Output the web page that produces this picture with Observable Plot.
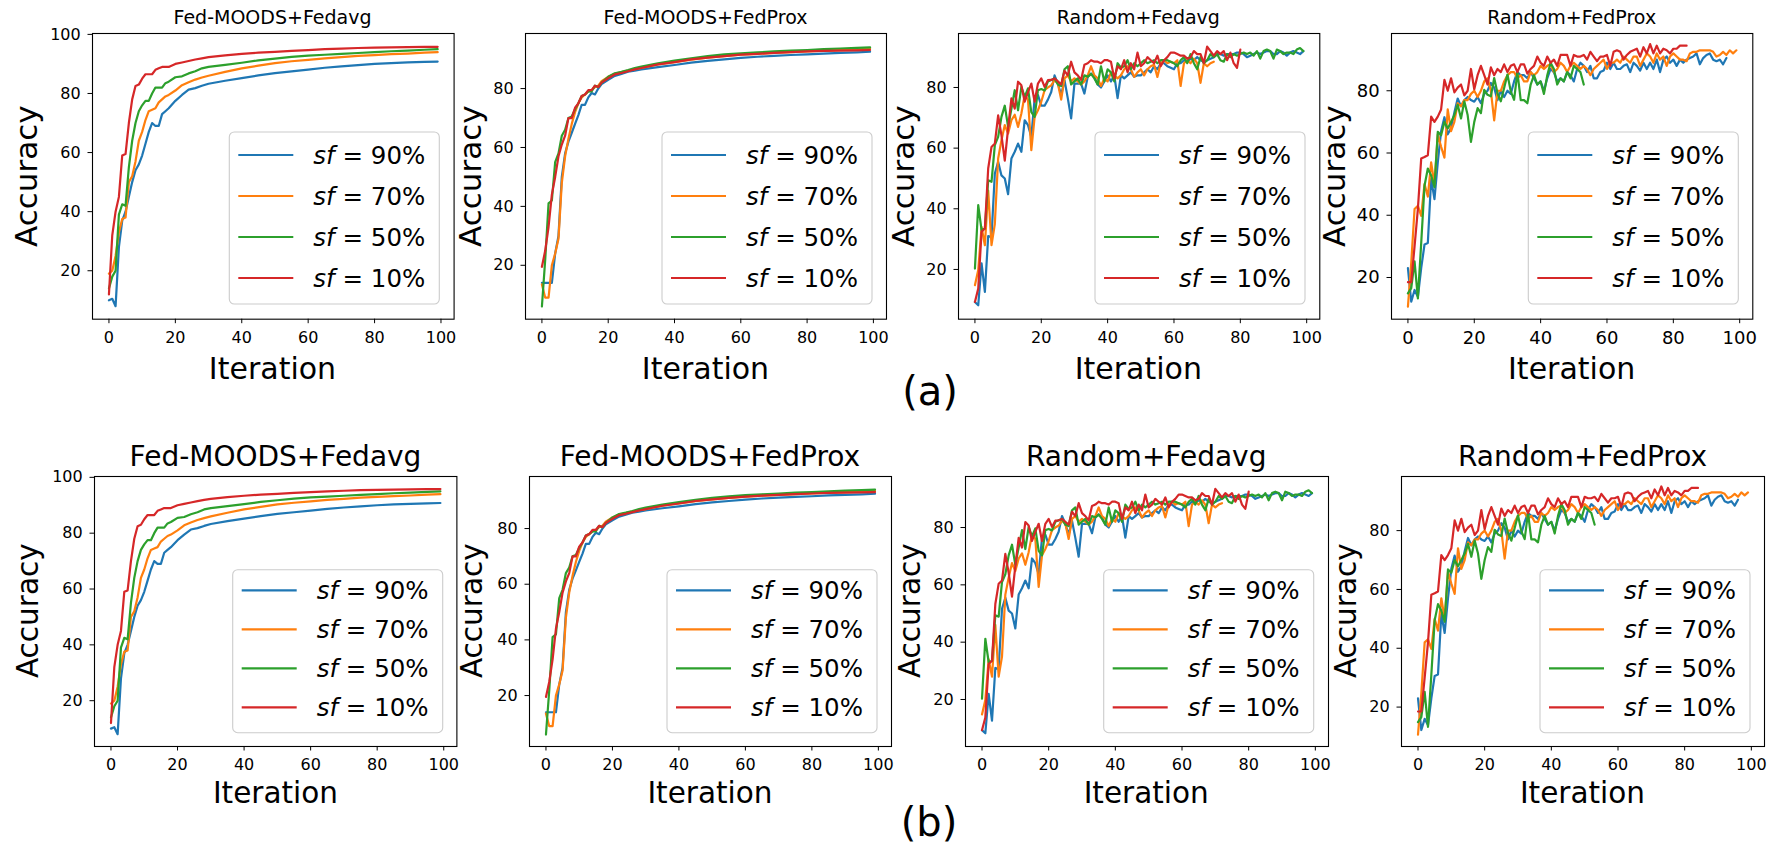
<!DOCTYPE html>
<html><head><meta charset="utf-8">
<script src="https://cdn.jsdelivr.net/npm/d3@7"></script>
<script src="https://cdn.jsdelivr.net/npm/@observablehq/plot@0.6"></script>
<style>
body{margin:0;background:#fff}
#root{position:relative;width:1770px;height:847px;font-family:"DejaVu Sans",sans-serif;overflow:hidden}
#root svg.plot{position:absolute}
#overlay{position:absolute;left:0;top:0;pointer-events:none}
</style></head><body><div id="root"></div>
<script>
// ---------------- data ----------------
const sfValues = ["90%", "70%", "50%", "10%"];
const sfColors = ["#1f77b4", "#ff7f0e", "#2ca02c", "#d62728"];
const titles = ["Fed-MOODS+Fedavg", "Fed-MOODS+FedProx", "Random+Fedavg", "Random+FedProx"];
const xTicks = [0, 20, 40, 60, 80, 100];

// iterations at which the smooth Fed-MOODS curves were read
const smoothIters = [0,1,2,3,4,5,6,7,8,9,10,11,12,13,14,15,16,17,18,20,22,24,26,28,30,35,40,45,50,55,60,65,70,75,80,85,90,95,99];

// Fed-MOODS + Fedavg
const moodsAvg90 = [10,10.5,8,28,37,40,45,50,54,56,59,63,67,70,69,69,73,74,75,77.5,79.5,81.3,81.8,82.6,83.3,84.3,85.2,86.1,86.9,87.5,88.1,88.7,89.2,89.6,90,90.3,90.5,90.7,90.8];
const moodsAvg70 = [19,20,25,33,37.5,38,50,52,57,64,67,71,74,74.5,75,77,78,79,79.5,81,82.8,83.8,84.7,85.4,86,87.3,88.5,89.4,90.3,90.9,91.4,91.9,92.3,92.7,93,93.3,93.5,93.8,94];
const moodsAvg50 = [14,18,20,39,42.5,42,55,64,70,74,76,77.5,77.5,80,82,82,82,83.5,84,85.5,85.8,86.8,87.5,88.5,89,89.7,90.4,91.2,91.8,92.4,92.8,93.1,93.4,93.7,94,94.3,94.5,94.8,95];
const moodsAvg10 = [12,32,40,45,59,59.5,70,78,82.5,83,85,86.5,86.5,86.5,88,88.5,89,89,89,90,90.5,91,91.5,91.9,92.3,92.9,93.4,93.8,94.1,94.4,94.7,95,95.2,95.4,95.5,95.6,95.7,95.8,95.8];

// Fed-MOODS + FedProx
const moodsProx90 = [14,14,14,14,24,30,50,58,62,65,68,71,74.5,74.5,77,78.5,78,80,81.5,83,84.3,85,85.7,86.1,86.5,87.3,88,88.8,89.4,89.9,90.4,90.8,91.1,91.4,91.6,91.9,92.1,92.3,92.5];
const moodsProx70 = [13.5,9,9,20,24,29,48,57,63,68,72,75,77,78,79,79.5,80.5,81,82.5,84,85,85.6,86.1,86.6,87,88.2,89,89.8,90.5,91,91.5,91.8,92.1,92.4,92.6,92.9,93.1,93.3,93.5];
const moodsProx50 = [6,22,41,42,55,58,64,66,70,70.5,73,75,77.5,78,79,79,81,80.5,82,84,85.2,85.7,86.3,87,87.5,88.6,89.5,90.3,91,91.6,92,92.3,92.6,92.9,93.1,93.4,93.6,93.8,94];
const moodsProx10 = [19.5,25,33,44,50,57,61,64,70,70,73.5,75,77.5,78,79.5,79.5,81,80.5,82,83.5,84.8,85.3,85.9,86.5,87,88.2,89,89.9,90.5,91,91.5,91.8,92.1,92.4,92.6,92.8,92.9,93,93.1];

// Random + Fedavg (one value per iteration, starting at 0)
const randAvg90 = [9.3,8.2,22,12.6,31,30.7,51.6,55.5,51,50, 44.8,56.6,58.8,61.5,58.8,69.2,67.6,63.7,76.4,77.5, 74,74,76,78.5,84,81.3,77.5,82.4,76.4,69.8, 81.3,81.3,81.3,78,83.5,84.6,83.5,81,80,82, 84,82,84,76.5,84,83,84,85,83.5,84, 84,85,86,85,87,86,88,88,87,86.5, 86,88,88,89,88.5,89.5,89,90,89,88.5, 89,89.5,90,91,91,90.5,91,91,91,91.5, 91.5,91,90,90.5,91,91.5,91,91.5,92,92, 91,91,92,91.5,90.5,91.5,92,91.5,91,92];
const randAvg70 = [14.8,19.8,34,28,46,28,35,56.6,62.6,67.6, 64.8,69.2,71,67,71.4,77.5,76,59.3,70.3,72.5, 75.3,79.1,80,80.7,82.4,81.3,76,83,84,82, 83,82,81,82,84,87,84,83,80.5,83, 82,85,84,83,84,86,87,86,83.5,85, 86,84,86,87,87.5,83.5,88,89,88,88.5, 88,89,80.5,88,89,88,89.5,88,81.5,88, 87,88,88.5];
const randAvg50 = [20.3,41.2,33,33.5,49.4,48.9,61,63.7,70.3,74, 67,73,79.1,72.5,80.2,76.9,79.7,71.9,70.3,79.1, 79.5,79,82,82.5,83,81,80.5,86,87,81, 82,83,81,84,83.5,84.5,83,81,87,82, 86,85,82,88,86.5,87,89,86,88,87, 88,89,88,88.5,89,88,89,89,89,88.5, 88,87,89,90,88,91,88,86,90,88, 89,91,90,91,89,88.5,91,90,91,90.5, 91,91.5,91,91.5,90.5,92,89.5,92,92.5,92, 89.5,92.5,92,91,91.5,91.5,91,92.5,93,92];
const randAvg10 = [9.3,13.7,32.4,33.5,53.3,60.4,61.5,70.8,64.2,55.9, 66.5,76.4,73,81.9,80.7,75.3,78.5,81.3,75.3,81.3, 83,80.2,82.4,82.5,83,82,81,85.5,84,88.5, 85,84,82.5,87.5,88,89,88.5,88.5,88,89, 89,88.5,83,87,86,89,85,88,86,91.5, 87,88,90,89,88,90.5,87,89,90,91.5, 91.5,91,90.5,90.5,89.5,90,92,91,91,88, 93.5,92,90.5,92,91,92,89,91.5,88,86.5, 92.5];

// Random + FedProx
const randProx90 = [23,12.2,16,13.8,23,30.6,31.1,51.7,45.2,57, 67,71.5,66,68,73,77.5,75,77,78,77, 76.5,78,76,79,80,82.5,81,77,80,78, 80,79,83,86,85,85,84,86,84,82, 83,80,84,87,86,83,84,83,86,85, 83,87,89,88,86,88,84,84,86,86.5, 89,87,89,87,87,88,88.5,86,89,88, 86.5,89,87,89,87,90,86,90,91,89, 90,88,90,89,90,90.5,91,92,88.5,90.5, 91.5,92,90,89.5,90,88.5,90.5];
const randProx70 = [10.6,24.7,42,43,39.8,50,46,57,50,66, 62,58.5,74,67,70,76,75,77,77,79, 80,78,80,83,84,80,70.5,80,80,83, 85,86,86,84,85,83,83,86,85,86, 88,87,88,88.5,86,87,89,88,86,88, 89,88,87,88,87,85,87,88,89,90, 87,89,89,90,89,91,90,89,91,91, 88,90,92,91,89,92,90,91,88,91, 92,91,90,90,89.5,92,92.5,92.5,93,93, 93,93,92.5,91,91.5,92.5,91.5,93,92,93];
const randProx50 = [14.9,16.6,25.2,13.3,31,49.5,55,52.8,49,66.8, 65.7,70,67.9,70,72.2,75.5,71.1,76.6,72.2,63.6, 70,74.4,72.8,80.3,78.7,78.2,84.1,79.2,76.6,80.9, 85.2,79.8,77.1,86,77,77,76,82,85,82, 83,79,85,89,87,82,84,83,86,84, 88,87,86,82];
const randProx10 = [18.5,18.5,30,42,58.2,58.7,59.3,71.7,70,71.7, 74,83.5,80,84,79.5,81,82,78.5,80,87, 80.5,85,88,85,82,87.5,85,87,86,88.5, 86,88,88.5,86,88.5,88.5,85.5,87,88,91, 89,88,91,89,90,88,91.5,91.5,91.5,88, 91.5,91,91,91.5,90,92.5,91,89.5,91,91, 91.5,88,92.5,93,92.5,90,91.5,92.5,93,93.5, 91,94,92,95,92,94.5,92,93.5,93,92, 93.5,93.5,94.5,94.5,94.5];

// ---------------- build tables ----------------
function rowsFrom(iters, seriesList) {
  const out = [];
  seriesList.forEach((vals, k) => vals.forEach((v, i) => out.push({it: iters ? iters[i] : i, acc: v, sf: sfValues[k]})));
  return out;
}
const panels = [
  {title: titles[0], rows: rowsFrom(smoothIters, [moodsAvg90, moodsAvg70, moodsAvg50, moodsAvg10]), yDomain: [3.6, 100.3], yTicks: [20, 40, 60, 80, 100]},
  {title: titles[1], rows: rowsFrom(smoothIters, [moodsProx90, moodsProx70, moodsProx50, moodsProx10]), yDomain: [1.7, 98.7], yTicks: [20, 40, 60, 80]},
  {title: titles[2], rows: rowsFrom(null, [randAvg90, randAvg70, randAvg50, randAvg10]), yDomain: [3.6, 97.8], yTicks: [20, 40, 60, 80]},
  {title: titles[3], rows: rowsFrom(null, [randProx90, randProx70, randProx50, randProx10]), yDomain: [6.6, 98.4], yTicks: [20, 40, 60, 80]}
];

// ---------------- layout ----------------
const figRows = [
  {tag: "(a)", tagX: 930, tagBase: 405, top: 33.3, h: 285.7, titleSize: 19, titleBase: 24, ySize: 31, xSize: 30, iterOff: 60.3,
   frames: [[91.7, 453.3], [525, 886], [957.7, 1319], [1391, 1752.3]], yLabOff: [65.7, 55.5, 55, 57], tickFont: [16, 16, 16, 18],
   leg: {w: 210, h: 172, right: 14, bottom: 15, first: 23, step: 41}},
  {tag: "(b)", tagX: 929, tagBase: 836, top: 475.7, h: 270, titleSize: 28, titleBase: 466, ySize: 29.5, xSize: 29.5, iterOff: 57.6,
   frames: [[94.3, 456.7], [529, 891], [964.7, 1327.7], [1401, 1764]], yLabOff: [66.3, 57, 54.4, 55], tickFont: [16, 16, 16, 16],
   leg: {w: 210, h: 163, right: 14, bottom: 13, first: 20.7, step: 39}}
];

const root = document.getElementById("root");
const ML = 70, MR = 6, MT = 6, MB = 40;

figRows.forEach(R => {
  panels.forEach((P, j) => {
    const [fl, fr] = R.frames[j];
    const fw = fr - fl;
    const chart = Plot.plot({
      width: fw + ML + MR, height: R.h + MT + MB,
      marginLeft: ML, marginRight: MR, marginTop: MT, marginBottom: MB,
      style: {background: "transparent", color: "#000", fontFamily: "DejaVu Sans", fontSize: R.tickFont[j] + "px", overflow: "visible"},
      x: {domain: [-4.95, 103.95], ticks: xTicks, tickSize: 4.5, tickPadding: 7.5, label: null},
      y: {domain: P.yDomain, ticks: P.yTicks, tickSize: 4.5, tickPadding: 7.3, label: null},
      color: {domain: sfValues, range: sfColors},
      marks: [
        Plot.line(P.rows, {x: "it", y: "acc", stroke: "sf", z: "sf", strokeWidth: 2.2, strokeLinejoin: "round"}),
        Plot.frame({stroke: "#000", strokeWidth: 1.1})
      ]
    });
    chart.classList.add("plot");
    chart.style.left = (fl - ML) + "px";
    chart.style.top = (R.top - MT) + "px";
    root.appendChild(chart);
  });
});

// ---------------- overlay: titles, axis labels, legends, (a)/(b) ----------------
const svg = d3.select(root).append("svg").attr("id", "overlay").attr("width", 1770).attr("height", 847)
  .attr("font-family", "DejaVu Sans").attr("fill", "#000");

figRows.forEach(R => {
  panels.forEach((P, j) => {
    const [fl, fr] = R.frames[j];
    const cx = (fl + fr) / 2, cy = R.top + R.h / 2, fb = R.top + R.h;
    svg.append("text").attr("x", cx).attr("y", R.titleBase).attr("text-anchor", "middle")
      .attr("font-size", R.titleSize).text(P.title);
    svg.append("text").attr("transform", `translate(${fl - R.yLabOff[j]},${cy}) rotate(-90)`)
      .attr("text-anchor", "middle").attr("dominant-baseline", "central").attr("font-size", R.ySize).text("Accuracy");
    svg.append("text").attr("x", cx).attr("y", fb + R.iterOff).attr("text-anchor", "middle")
      .attr("font-size", R.xSize).text("Iteration");
    // legend
    const L = R.leg;
    const lx = fr - L.right - L.w, ly = fb - L.bottom - L.h;
    const g = svg.append("g");
    g.append("rect").attr("x", lx).attr("y", ly).attr("width", L.w).attr("height", L.h).attr("rx", 5)
      .attr("fill", "#fff").attr("fill-opacity", 0.8).attr("stroke", "#cccccc").attr("stroke-width", 1.1);
    sfValues.forEach((v, k) => {
      const ey = ly + L.first + k * L.step;
      g.append("line").attr("x1", lx + 9).attr("x2", lx + 64).attr("y1", ey).attr("y2", ey)
        .attr("stroke", sfColors[k]).attr("stroke-width", 2.2);
      const t = g.append("text").attr("x", lx + 84).attr("y", ey).attr("dominant-baseline", "central").attr("font-size", 24.5);
      t.append("tspan").attr("font-style", "italic").text("sf");
      t.append("tspan").text(" = " + v);
    });
  });
  svg.append("text").attr("x", R.tagX).attr("y", R.tagBase).attr("text-anchor", "middle").attr("font-size", 40).text(R.tag);
});
</script></body></html>
